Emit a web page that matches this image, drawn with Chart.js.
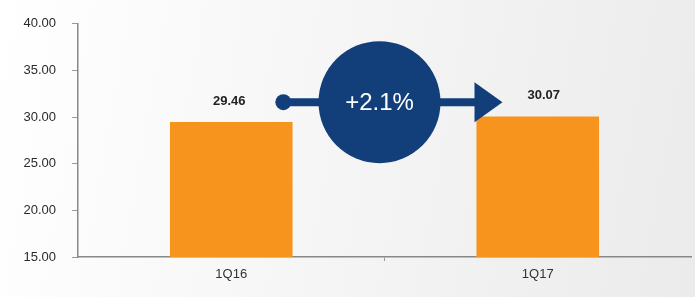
<!DOCTYPE html>
<html><head><meta charset="utf-8">
<script src="https://cdn.jsdelivr.net/npm/chart.js@4.4.0/dist/chart.umd.min.js"></script>
<style>
html,body{margin:0;padding:0;}
body{width:695px;height:297px;overflow:hidden;background:linear-gradient(100deg,#ffffff 0%,#f6f6f6 45%,#ebebeb 100%);}
#wrap{position:relative;width:695px;height:297px;}
</style></head><body>
<div id="wrap"><canvas id="c" width="695" height="297"></canvas></div>
<script>
const categories = ["1Q16", "1Q17"];
const values = [29.46, 30.07];
const valueLabels = ["29.46", "30.07"];
const yTicks = [15, 20, 25, 30, 35, 40];
const growthLabel = "+2.1%";
const arrowLevel = 31.6; // value level at which the growth arrow sits

const NAVY = "#123f7a";
const annot = {
  id: "annot",
  afterDatasetsDraw(chart) {
    const ctx = chart.ctx, xs = chart.scales.x, ys = chart.scales.y;
    const x0 = xs.getPixelForValue(0), x1 = xs.getPixelForValue(1);
    const step = x1 - x0;
    ctx.save();
    ctx.fillStyle = "#222";
    ctx.font = "bold 13px 'Liberation Sans', Arial, sans-serif";
    ctx.textAlign = "center"; ctx.textBaseline = "middle";
    values.forEach((v, i) => {
      const px = xs.getPixelForValue(i);
      ctx.fillText(valueLabels[i], px + (i === 1 ? 6 : -2), ys.getPixelForValue(v) - 21);
    });
    const ay = ys.getPixelForValue(arrowLevel);
    const startX = x0 + step * 0.17;
    const tipX = x1 - step * 0.115;
    const headW = 28, headH = 20;
    ctx.strokeStyle = NAVY; ctx.fillStyle = NAVY; ctx.lineWidth = 8;
    ctx.beginPath(); ctx.moveTo(startX, ay); ctx.lineTo(tipX - headW + 2, ay); ctx.stroke();
    ctx.beginPath(); ctx.arc(startX, ay, 8, 0, Math.PI * 2); ctx.fill();
    ctx.beginPath(); ctx.moveTo(tipX, ay); ctx.lineTo(tipX - headW, ay - headH); ctx.lineTo(tipX - headW, ay + headH); ctx.closePath(); ctx.fill();
    const cx = (x0 + x1) / 2 - 5;
    ctx.beginPath(); ctx.arc(cx, ay, 61, 0, Math.PI * 2); ctx.fill();
    ctx.fillStyle = "#ffffff";
    ctx.font = "24px 'Liberation Sans', Arial, sans-serif";
    ctx.fillText(growthLabel, cx, ay + 1);
    ctx.restore();
  }
};

new Chart(document.getElementById("c"), {
  type: "bar",
  data: {
    labels: categories,
    datasets: [{ data: values, backgroundColor: "#f7941d", borderWidth: 0, barPercentage: 0.8, categoryPercentage: 0.5 }]
  },
  options: {
    responsive: false, animation: false,
    layout: { padding: { top: 20, right: 4, left: 0, bottom: 0 } },
    plugins: { legend: { display: false }, tooltip: { enabled: false } },
    scales: {
      x: {
        grid: { display: true, drawOnChartArea: false, tickLength: 4, offset: true,
          color: c => (c.index === 1 ? "#999" : "rgba(0,0,0,0)") },
        border: { display: true, color: "#888", width: 1.5 },
        ticks: { color: "#333", font: { size: 13, family: "'Liberation Sans', Arial, sans-serif" }, padding: 6 },
        afterFit(s) { s.height = 40; }
      },
      y: {
        min: 15, max: 40,
        afterBuildTicks(s) { s.ticks = yTicks.map(v => ({ value: v })); },
        grid: { display: true, drawOnChartArea: false, tickLength: 6, color: "#999" },
        border: { display: true, color: "#888", width: 1.5 },
        ticks: { color: "#2a2a2a", font: { size: 13, family: "'Liberation Sans', Arial, sans-serif" }, padding: 16,
          callback: v => Number(v).toFixed(2) },
        afterFit(s) { s.width = 78; }
      }
    }
  },
  plugins: [annot]
});
</script>
</body></html>
